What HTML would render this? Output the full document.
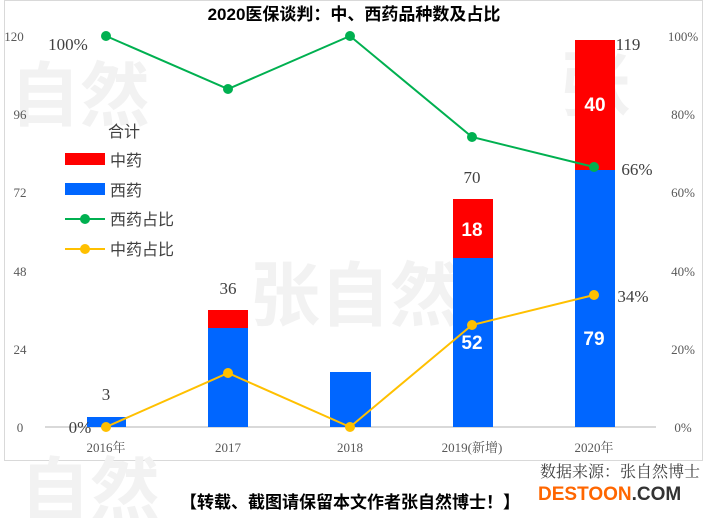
<!DOCTYPE html>
<html><head><meta charset="utf-8"><style>
html,body{margin:0;background:#fff;overflow:hidden;width:709px;height:518px;}
svg{display:block;}
.x{font-family:"Liberation Sans","Noto Sans CJK SC",sans-serif;}
.s{font-family:"Liberation Serif","Noto Serif CJK SC",serif;}
</style></head><body>
<svg width="709" height="518" viewBox="0 0 709 518" xmlns="http://www.w3.org/2000/svg" class="x">
<rect x="4.5" y="0.5" width="698" height="460" fill="#fff" stroke="#d9d9d9"/>
<g fill="#f2f2f2" font-size="70" font-weight="bold" font-family="Noto Sans CJK SC,sans-serif">
<text x="10" y="120">自然</text><text x="250" y="320">张自然</text><text x="560" y="110">张</text><text x="20" y="515">自然</text>
</g>
<text x="354" y="20" text-anchor="middle" font-size="17" font-weight="bold" fill="#000">2020医保谈判：中、西药品种数及占比</text>
<line x1="45" y1="427" x2="656" y2="427" stroke="#d9d9d9" stroke-width="2"/>
<g class="s" font-size="13" fill="#595959" text-anchor="middle">
<text x="14" y="41">120</text><text x="20" y="119">96</text><text x="20" y="197">72</text><text x="20" y="276">48</text><text x="20" y="354">24</text><text x="20" y="432">0</text>
<text x="683" y="41">100%</text><text x="683" y="119">80%</text><text x="683" y="197">60%</text><text x="683" y="276">40%</text><text x="683" y="354">20%</text><text x="683" y="432">0%</text>
<text x="106" y="452">2016年</text><text x="228" y="452">2017</text><text x="350" y="452">2018</text><text x="472" y="452">2019(新增)</text><text x="594" y="452">2020年</text>
</g>
<g fill="#0066ff">
<rect x="87" y="417" width="39" height="10"/><rect x="208" y="328" width="40" height="99"/><rect x="330" y="372" width="41" height="55"/><rect x="453" y="258" width="40" height="169"/><rect x="575" y="170" width="40" height="257"/>
</g>
<g fill="#ff0000"><rect x="208" y="310" width="40" height="18"/><rect x="453" y="199" width="40" height="59"/><rect x="575" y="40" width="40" height="130"/></g>
<polyline points="106,36 228,89 350,36 472,137 594,167" fill="none" stroke="#00b050" stroke-width="2"/>
<g fill="#00b050"><circle cx="106" cy="36" r="5"/><circle cx="228" cy="89" r="5"/><circle cx="350" cy="36" r="5"/><circle cx="472" cy="137" r="5"/><circle cx="594" cy="167" r="5"/></g>
<polyline points="106,427 228,373 350,427 472,325 594,295" fill="none" stroke="#ffc000" stroke-width="2"/>
<g fill="#ffc000"><circle cx="106" cy="427" r="5"/><circle cx="228" cy="373" r="5"/><circle cx="350" cy="427" r="5"/><circle cx="472" cy="325" r="5"/><circle cx="594" cy="295" r="5"/></g>
<g class="s" font-size="17" fill="#404040" text-anchor="middle">
<text x="106" y="400">3</text><text x="228" y="294">36</text><text x="472" y="183">70</text><text x="628" y="50">119</text>
<text x="68" y="50">100%</text><text x="637" y="175">66%</text><text x="633" y="302">34%</text><text x="80" y="433">0%</text>
</g>
<g font-size="19" font-weight="bold" fill="#fff" text-anchor="middle">
<text x="472" y="236">18</text><text x="595" y="111">40</text><text x="472" y="349">52</text><text x="594" y="345">79</text>
</g>
<g font-size="16" fill="#404040" font-family="Noto Sans CJK SC,sans-serif">
<text x="108" y="137">合计</text>
<rect x="65" y="153" width="40" height="12" fill="#ff0000"/><text x="110" y="166">中药</text>
<rect x="65" y="183" width="40" height="12" fill="#0066ff"/><text x="110" y="196">西药</text>
<line x1="65" y1="219" x2="105" y2="219" stroke="#00b050" stroke-width="2"/><circle cx="85" cy="219" r="5" fill="#00b050"/><text x="110" y="225">西药占比</text>
<line x1="65" y1="249" x2="105" y2="249" stroke="#ffc000" stroke-width="2"/><circle cx="85" cy="249" r="5" fill="#ffc000"/><text x="110" y="255">中药占比</text>
</g>
<text x="700" y="477" text-anchor="end" font-size="16" fill="#404040" font-family="Noto Serif CJK SC,serif">数据来源：张自然博士</text>
<text x="350" y="508" text-anchor="middle" font-size="17" font-weight="bold" fill="#000" font-family="Noto Sans CJK SC,sans-serif">【转载、截图请保留本文作者张自然博士！】</text>
<text x="538" y="500" font-size="19" font-weight="bold" fill="#ff6600" font-family="Liberation Sans,sans-serif">DESTOON<tspan fill="#333">.COM</tspan></text>
</svg>
</body></html>
